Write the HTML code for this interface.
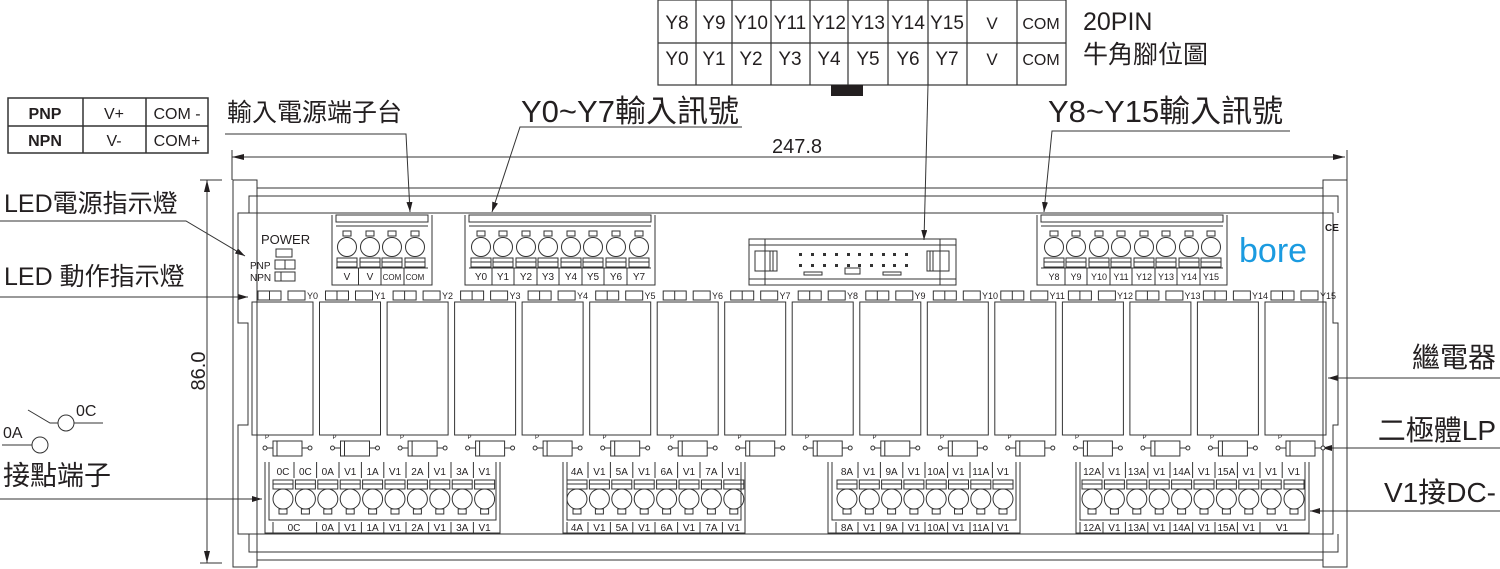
<!DOCTYPE html>
<html><head><meta charset="utf-8"><style>
html,body{margin:0;padding:0;background:#fff;width:1500px;height:569px;overflow:hidden}
svg{display:block}
text{font-family:"Liberation Sans","Noto Sans CJK TC",sans-serif;fill:#231f20}
.s{font-size:9px}
.t{font-size:10px;text-anchor:middle}
</style></head><body>
<svg width="1500" height="569" viewBox="0 0 1500 569" xmlns="http://www.w3.org/2000/svg">
<defs>
<marker id="ar" viewBox="0 0 10 6" refX="10" refY="3" markerWidth="10" markerHeight="6" orient="auto" markerUnits="userSpaceOnUse"><path d="M0,0L10,3L0,6z" fill="#231f20"/></marker>
<g id="relay" fill="none" stroke="#333" stroke-width="1">
<rect x="0" y="302" width="61" height="133"/>
<rect x="6" y="291" width="23" height="9"/><line x1="17.5" y1="291" x2="17.5" y2="300"/>
<rect x="36" y="291" width="17" height="9"/>
<line x1="13" y1="448" x2="58" y2="448"/>
<rect x="21" y="441" width="29" height="15" fill="#fff"/>
<line x1="25" y1="441" x2="25" y2="456"/>
<circle cx="13" cy="448" r="2" fill="#fff"/><circle cx="58" cy="448" r="2" fill="#fff"/>
</g>
<g id="tp" fill="none" stroke="#333" stroke-width="1">
<rect x="-4" y="231" width="8" height="5"/>
<circle cx="0" cy="247" r="9.5"/>
<rect x="-10" y="258" width="20" height="9"/>
<line x1="-10" y1="262" x2="10" y2="262"/>
</g>
<g id="bp" fill="none" stroke="#333" stroke-width="1">
<rect x="-10" y="480" width="20" height="9"/>
<line x1="-10" y1="484" x2="10" y2="484"/>
<circle cx="0" cy="499" r="10"/>
<rect x="-4" y="509" width="8" height="5"/>
</g>
</defs>

<g fill="none" stroke="#333" stroke-width="1.2">
<rect x="658" y="0" width="408" height="85"/>
<line x1="658" y1="43" x2="1066" y2="43"/>
<path d="M696 0V85M732 0V85M771 0V85M810 0V85M848 0V85M888 0V85M928 0V85M967 0V85M1017 0V85"/>
</g>
<rect x="831" y="85" width="32" height="11" fill="#231f20"/>
<g font-size="19" text-anchor="middle">
<text x="677" y="29">Y8</text><text x="714" y="29">Y9</text><text x="751" y="29">Y10</text><text x="790" y="29">Y11</text><text x="829" y="29">Y12</text><text x="868" y="29">Y13</text><text x="908" y="29">Y14</text><text x="947" y="29">Y15</text><text x="992" y="29" font-size="17">V</text><text x="1041" y="29" font-size="16">COM</text>
<text x="677" y="65">Y0</text><text x="714" y="65">Y1</text><text x="751" y="65">Y2</text><text x="790" y="65">Y3</text><text x="829" y="65">Y4</text><text x="868" y="65">Y5</text><text x="908" y="65">Y6</text><text x="947" y="65">Y7</text><text x="992" y="65" font-size="17">V</text><text x="1041" y="65" font-size="16">COM</text>
</g>
<text x="1083" y="30" font-size="25">20PIN</text>
<text x="1083" y="63" font-size="25">牛角腳位圖</text>

<g fill="none" stroke="#333" stroke-width="1.5">
<rect x="8" y="98" width="200" height="55"/>
<line x1="8" y1="126" x2="208" y2="126"/>
<line x1="83" y1="98" x2="83" y2="153"/><line x1="146" y1="98" x2="146" y2="153"/>
</g>
<g font-size="16" text-anchor="middle">
<text x="45" y="119" font-weight="bold">PNP</text><text x="45" y="146" font-weight="bold">NPN</text>
<text x="114" y="119">V+</text><text x="114" y="146">V-</text>
<text x="177" y="119">COM -</text><text x="177" y="146">COM+</text>
</g>

<text x="227" y="121" font-size="25">輸入電源端子台</text>
<text x="521" y="122" font-size="31">Y0~Y7輸入訊號</text>
<text x="1048" y="122" font-size="31">Y8~Y15輸入訊號</text>
<text x="797" y="153" font-size="20" text-anchor="middle">247.8</text>
<text x="4" y="212" font-size="25">LED電源指示燈</text>
<text x="4" y="285" font-size="25">LED 動作指示燈</text>
<text x="3" y="485" font-size="27">接點端子</text>
<text x="1496" y="367" font-size="28" text-anchor="end">繼電器</text>
<text x="1496" y="440" font-size="28" text-anchor="end">二極體LP</text>
<text x="1496" y="502" font-size="28" text-anchor="end">V1接DC-</text>
<text transform="translate(205,371) rotate(-90)" font-size="20" text-anchor="middle">86.0</text>

<g fill="none" stroke="#333" stroke-width="1">
<path d="M225 134H406L410 212" marker-end="url(#ar)"/>
<path d="M742 127H520L492 212" marker-end="url(#ar)"/>
<path d="M1290 131H1052L1044 212" marker-end="url(#ar)"/>
<path d="M928 85L924 240" marker-end="url(#ar)"/>
<path d="M0 221H186L245 256" marker-end="url(#ar)"/>
<path d="M0 297H248" marker-end="url(#ar)"/>
<path d="M0 499H262" marker-end="url(#ar)"/>
<path d="M1500 378H1328" marker-end="url(#ar)"/>
<path d="M1500 448H1322" marker-end="url(#ar)"/>
<path d="M1500 511H1310" marker-end="url(#ar)"/>
<path d="M232 157H1345"/>
<path d="M232 150V180M1347 150V180"/>
<path d="M207 180V563"/>
<path d="M200 180H222M200 563H222"/>
</g>
<path d="M232 157l12 -3v6z M1345 157l-12 -3v6z M207 180l-3 12h6z M207 563l-3 -12h6z" fill="#231f20"/>

<g fill="none" stroke="#333" stroke-width="1">
<path d="M28 410L50 423H58"/><circle cx="66" cy="423" r="8"/><path d="M74 423H103"/>
<path d="M2 445H32"/><circle cx="40" cy="445" r="8"/>
</g>
<text x="76" y="416" font-size="16">0C</text>
<text x="3" y="438" font-size="16">0A</text>

<g fill="none" stroke="#333" stroke-width="1">
<path d="M233 180H257V188H1323V180H1347V567H1323V560H257V567H233Z"/>
<path d="M257 188V560M1323 188V560"/>
<path d="M249 213V196H1338V213"/>
<path d="M249 534V552H1338V534"/>
<path d="M238 213H1333V323H1338V425H1333V534H238V425H248V323H238Z"/>
</g>

<text x="261" y="244" font-size="13">POWER</text>
<g fill="none" stroke="#333" stroke-width="1">
<rect x="276" y="249" width="16" height="8"/>
<rect x="275" y="260" width="20" height="9"/><line x1="285" y1="260" x2="285" y2="269"/>
<rect x="275" y="272" width="20" height="9"/><line x1="281" y1="272" x2="281" y2="281"/>
</g>
<text x="250" y="269" font-size="10">PNP</text>
<text x="250" y="281" font-size="10">NPN</text>

<g fill="none" stroke="#333" stroke-width="1">
<path d="M332 215V285H432V215"/><path d="M336 215H428V222H336Z"/><path d="M336 226H428"/>
<path d="M336 268H428M358.5 268V285M381 268V285M404 268V285"/>
<path d="M465 215V285H655V215"/><path d="M469 215H651V222H469Z"/><path d="M469 226H651"/>
<path d="M469 268H651M492 268V285M514 268V285M537 268V285M559 268V285M582 268V285M604 268V285M627 268V285"/>
<path d="M1037 215V285H1227V215"/><path d="M1041 215H1223V222H1041Z"/><path d="M1041 226H1223"/>
<path d="M1041 268H1223M1065 268V285M1087 268V285M1110 268V285M1132 268V285M1155 268V285M1177 268V285M1200 268V285"/>
</g>
<use href="#tp" x="347"/><use href="#tp" x="370"/><use href="#tp" x="392"/><use href="#tp" x="415"/>
<use href="#tp" x="481"/><use href="#tp" x="503"/><use href="#tp" x="526"/><use href="#tp" x="548"/><use href="#tp" x="571"/><use href="#tp" x="593"/><use href="#tp" x="616"/><use href="#tp" x="639"/>
<use href="#tp" x="1054"/><use href="#tp" x="1076"/><use href="#tp" x="1099"/><use href="#tp" x="1121"/><use href="#tp" x="1144"/><use href="#tp" x="1166"/><use href="#tp" x="1189"/><use href="#tp" x="1211"/>
<g class="t" font-size="10">
<text x="347" y="280">V</text><text x="370" y="280">V</text><text x="392" y="280" font-size="8">COM</text><text x="415" y="280" font-size="8">COM</text>
<text x="481" y="280">Y0</text><text x="503" y="280">Y1</text><text x="526" y="280">Y2</text><text x="548" y="280">Y3</text><text x="571" y="280">Y4</text><text x="593" y="280">Y5</text><text x="616" y="280">Y6</text><text x="639" y="280">Y7</text>
<text x="1054" y="280" font-size="9">Y8</text><text x="1076" y="280" font-size="9">Y9</text><text x="1099" y="280" font-size="9">Y10</text><text x="1121" y="280" font-size="9">Y11</text><text x="1144" y="280" font-size="9">Y12</text><text x="1166" y="280" font-size="9">Y13</text><text x="1189" y="280" font-size="9">Y14</text><text x="1211" y="280" font-size="9">Y15</text>
</g>

<g fill="none" stroke="#333" stroke-width="1">
<rect x="749" y="239" width="207" height="46"/>
<path d="M749 245H956M749 279H956M765 239V285M940 239V285"/>
<rect x="755" y="251" width="22" height="20"/><rect x="927" y="251" width="22" height="20"/>
<path d="M770 251V271M773 251V271M930 251V271M933 251V271"/>
<rect x="804" y="272" width="18" height="3"/><rect x="845" y="268" width="15" height="6"/><rect x="883" y="272" width="18" height="3"/>
</g>
<g fill="#333">
<rect x="799" y="253" width="3" height="3"/><rect x="811" y="253" width="3" height="3"/><rect x="823" y="253" width="3" height="3"/><rect x="835" y="253" width="3" height="3"/><rect x="847" y="253" width="3" height="3"/><rect x="858" y="253" width="3" height="3"/><rect x="870" y="253" width="3" height="3"/><rect x="882" y="253" width="3" height="3"/><rect x="893" y="253" width="3" height="3"/><rect x="905" y="253" width="3" height="3"/>
<rect x="799" y="264" width="3" height="3"/><rect x="811" y="264" width="3" height="3"/><rect x="823" y="264" width="3" height="3"/><rect x="835" y="264" width="3" height="3"/><rect x="847" y="264" width="3" height="3"/><rect x="858" y="264" width="3" height="3"/><rect x="870" y="264" width="3" height="3"/><rect x="882" y="264" width="3" height="3"/><rect x="893" y="264" width="3" height="3"/><rect x="905" y="264" width="3" height="3"/>
</g>

<text x="1239" y="262" font-size="34" style="fill:#1b9be0">bore</text>
<text x="1325" y="231" font-size="10" font-weight="bold">CE</text>

<use href="#relay" x="252"/><use href="#relay" x="319.5"/><use href="#relay" x="387.1"/><use href="#relay" x="454.6"/>
<use href="#relay" x="522.1"/><use href="#relay" x="589.7"/><use href="#relay" x="657.2"/><use href="#relay" x="724.7"/>
<use href="#relay" x="792.2"/><use href="#relay" x="859.8"/><use href="#relay" x="927.3"/><use href="#relay" x="994.8"/>
<use href="#relay" x="1062.4"/><use href="#relay" x="1129.9"/><use href="#relay" x="1197.4"/><use href="#relay" x="1265"/>
<g class="s">
<text x="307" y="299">Y0</text><text x="374.5" y="299">Y1</text><text x="442" y="299">Y2</text><text x="509.5" y="299">Y3</text>
<text x="577" y="299">Y4</text><text x="644.5" y="299">Y5</text><text x="712" y="299">Y6</text><text x="779.5" y="299">Y7</text>
<text x="847" y="299">Y8</text><text x="914.5" y="299">Y9</text><text x="982" y="299">Y10</text><text x="1049.5" y="299">Y11</text>
<text x="1117" y="299">Y12</text><text x="1184.5" y="299">Y13</text><text x="1252" y="299">Y14</text><text x="1320" y="299">Y15</text>
</g>
<g font-size="6">
<text x="265" y="439">P</text><text x="332.5" y="439">P</text><text x="400" y="439">P</text><text x="467.5" y="439">P</text><text x="535" y="439">P</text><text x="602.5" y="439">P</text><text x="670" y="439">P</text><text x="737.5" y="439">P</text><text x="805" y="439">P</text><text x="872.5" y="439">P</text><text x="940" y="439">P</text><text x="1007.5" y="439">P</text><text x="1075" y="439">P</text><text x="1142.5" y="439">P</text><text x="1210" y="439">P</text><text x="1278" y="439">P</text>
</g>

<g fill="none" stroke="#333" stroke-width="1">
<path d="M265 462V533H500V462M269 462V520H496V462"/><path d="M269 520H496M273 522V533H496"/>
<path d="M294 462V478M316.6 462V478M339 462V478M361.4 462V478M383.8 462V478M406 462V478M428.6 462V478M451 462V478M473.4 462V478"/>
<path d="M316.6 522V533M339 522V533M361.4 522V533M383.8 522V533M406 522V533M428.6 522V533M451 522V533M473.4 522V533"/>
<path d="M563 462V533H745V462M567 462V520H741V462"/><path d="M567 520H741M567 522V533H741"/>
<path d="M588 462V478M610.4 462V478M632.8 462V478M655 462V478M677.6 462V478M700 462V478M722.4 462V478"/>
<path d="M588 522V533M610.4 522V533M632.8 522V533M655 522V533M677.6 522V533M700 522V533M722.4 522V533"/>
<path d="M828 462V533H1020V462M832 462V520H1016V462"/><path d="M832 520H1016M836 522V533H1016"/>
<path d="M858 462V478M880.4 462V478M902.8 462V478M925 462V478M947.6 462V478M970 462V478M992.4 462V478"/>
<path d="M858 522V533M880.4 522V533M902.8 522V533M925 522V533M947.6 522V533M970 522V533M992.4 522V533"/>
<path d="M1076 462V533H1309V462M1080 462V520H1305V462"/><path d="M1080 520H1305M1080 522V533H1305"/>
<path d="M1103 462V478M1125.4 462V478M1147.8 462V478M1170 462V478M1192.6 462V478M1215 462V478M1237.4 462V478M1260 462V478M1282.2 462V478"/>
<path d="M1103 522V533M1125.4 522V533M1147.8 522V533M1170 522V533M1192.6 522V533M1215 522V533M1237.4 522V533M1260 522V533"/>
</g>
<use href="#bp" x="283"/><use href="#bp" x="305.4"/><use href="#bp" x="327.8"/><use href="#bp" x="350.2"/><use href="#bp" x="372.6"/><use href="#bp" x="395"/><use href="#bp" x="417.4"/><use href="#bp" x="439.8"/><use href="#bp" x="462.2"/><use href="#bp" x="484.6"/>
<use href="#bp" x="577"/><use href="#bp" x="599.4"/><use href="#bp" x="621.8"/><use href="#bp" x="644.2"/><use href="#bp" x="666.6"/><use href="#bp" x="689"/><use href="#bp" x="711.4"/><use href="#bp" x="733.8"/>
<use href="#bp" x="847"/><use href="#bp" x="869.3"/><use href="#bp" x="891.6"/><use href="#bp" x="913.9"/><use href="#bp" x="936.2"/><use href="#bp" x="958.5"/><use href="#bp" x="980.8"/><use href="#bp" x="1003"/>
<use href="#bp" x="1092"/><use href="#bp" x="1114.4"/><use href="#bp" x="1136.8"/><use href="#bp" x="1159.2"/><use href="#bp" x="1181.6"/><use href="#bp" x="1204"/><use href="#bp" x="1226.4"/><use href="#bp" x="1248.8"/><use href="#bp" x="1271.2"/><use href="#bp" x="1294"/>
<g class="t">
<text x="283" y="475">0C</text><text x="305.4" y="475">0C</text><text x="327.8" y="475">0A</text><text x="350.2" y="475">V1</text><text x="372.6" y="475">1A</text><text x="395" y="475">V1</text><text x="417.4" y="475">2A</text><text x="439.8" y="475">V1</text><text x="462.2" y="475">3A</text><text x="484.6" y="475">V1</text>
<text x="294" y="531">0C</text><text x="327.8" y="531">0A</text><text x="350.2" y="531">V1</text><text x="372.6" y="531">1A</text><text x="395" y="531">V1</text><text x="417.4" y="531">2A</text><text x="439.8" y="531">V1</text><text x="462.2" y="531">3A</text><text x="484.6" y="531">V1</text>
<text x="577" y="475">4A</text><text x="599.4" y="475">V1</text><text x="621.8" y="475">5A</text><text x="644.2" y="475">V1</text><text x="666.6" y="475">6A</text><text x="689" y="475">V1</text><text x="711.4" y="475">7A</text><text x="733.8" y="475">V1</text>
<text x="577" y="531">4A</text><text x="599.4" y="531">V1</text><text x="621.8" y="531">5A</text><text x="644.2" y="531">V1</text><text x="666.6" y="531">6A</text><text x="689" y="531">V1</text><text x="711.4" y="531">7A</text><text x="733.8" y="531">V1</text>
<text x="847" y="475">8A</text><text x="869.3" y="475">V1</text><text x="891.6" y="475">9A</text><text x="913.9" y="475">V1</text><text x="936.2" y="475">10A</text><text x="958.5" y="475">V1</text><text x="980.8" y="475">11A</text><text x="1003" y="475">V1</text>
<text x="847" y="531">8A</text><text x="869.3" y="531">V1</text><text x="891.6" y="531">9A</text><text x="913.9" y="531">V1</text><text x="936.2" y="531">10A</text><text x="958.5" y="531">V1</text><text x="980.8" y="531">11A</text><text x="1003" y="531">V1</text>
<text x="1092" y="475">12A</text><text x="1114.4" y="475">V1</text><text x="1136.8" y="475">13A</text><text x="1159.2" y="475">V1</text><text x="1181.6" y="475">14A</text><text x="1204" y="475">V1</text><text x="1226.4" y="475">15A</text><text x="1248.8" y="475">V1</text><text x="1271.2" y="475">V1</text><text x="1294" y="475">V1</text>
<text x="1092" y="531">12A</text><text x="1114.4" y="531">V1</text><text x="1136.8" y="531">13A</text><text x="1159.2" y="531">V1</text><text x="1181.6" y="531">14A</text><text x="1204" y="531">V1</text><text x="1226.4" y="531">15A</text><text x="1248.8" y="531">V1</text><text x="1282" y="531">V1</text>
</g>
</svg>
</body></html>
